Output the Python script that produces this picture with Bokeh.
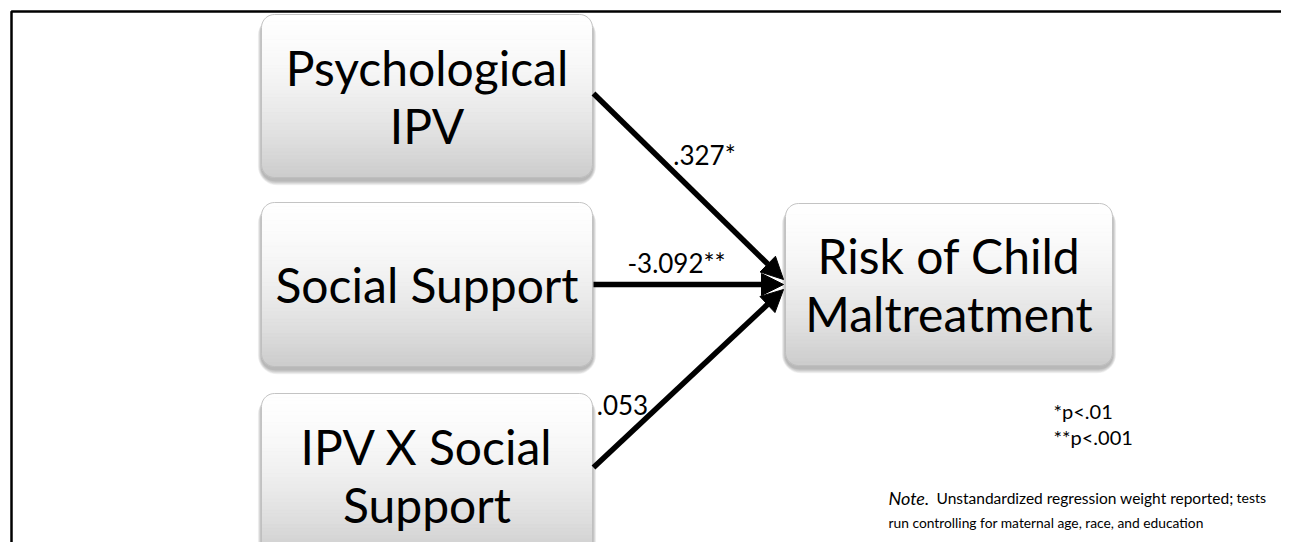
import numpy as np
from bokeh.plotting import figure
from bokeh.models import Range1d, Arrow, NormalHead
from bokeh.core.properties import value
from bokeh.embed import file_html
from bokeh.resources import INLINE

# ---------------- content ----------------
predictor_lines = [["Psychological", "IPV"], ["Social Support"], ["IPV X Social", "Support"]]
outcome_lines = ["Risk of Child", "Maltreatment"]
coefficients = [".327*", "-3.092**", ".053"]
sig_notes = ["*p<.01", "**p<.001"]
note_italic = "Note."
note_line1 = "Unstandardized regression weight reported;"
note_line1_small = "tests"
note_line2 = "run controlling for maternal age, race, and education"

# ---------------- layout (pixel space of the picture) ----------------
PRED_BOX = [(261, 592, 14, 177), (261, 592, 202, 366), (261, 592, 393, 557)]
OUT_BOX = (785, 1112, 203, 365)
RAD = 13
FONT = value("Lato")
BIG = "48px"
LINE_GAP = 58
COEF_POS = [(704, 154), (676, 262), (622, 404)]

p = figure(width=1281, height=542, output_backend="svg", toolbar_location=None,
           x_range=Range1d(0, 1281), y_range=Range1d(542, 0), min_border=0)
p.axis.visible = False
p.grid.visible = False
p.outline_line_color = None
p.background_fill_color = "white"
p.border_fill_color = "white"


def rr_points(l, r, t, b, rad, n=10):
    xs, ys = [], []
    corners = [(r - rad, t + rad, -90, 0), (r - rad, b - rad, 0, 90),
               (l + rad, b - rad, 90, 180), (l + rad, t + rad, 180, 270)]
    for cx, cy, a0, a1 in corners:
        for a in np.linspace(a0, a1, n):
            xs.append(cx + rad * np.cos(np.radians(a)))
            ys.append(cy + rad * np.sin(np.radians(a)))
    return xs, ys


def inset(y, t, b, rad):
    if y < t + rad:
        d = t + rad - y
    elif y > b - rad:
        d = y - (b - rad)
    else:
        return 0.0
    d = min(d, rad)
    return rad - np.sqrt(max(rad * rad - d * d, 0))


def draw_box(l, r, t, b):
    sx, sy = [], []
    for e in range(1, 7):
        xs, ys = rr_points(l - e * 0.6, r + e * 0.6, t + 2, b + 3 + e * 0.8, RAD + e)
        sx.append(xs)
        sy.append(ys)
    p.patches(sx, sy, fill_color="black", fill_alpha=0.05, line_color=None)
    nb = 45
    edges = np.linspace(t, b, nb + 1)
    bx, by, cols = [], [], []
    for k in range(nb):
        y0, y1 = edges[k], edges[k + 1]
        yy = np.linspace(y0, y1, 5)
        left = [l + inset(y, t, b, RAD) for y in yy]
        right = [r - inset(y, t, b, RAD) for y in yy]
        bx.append(left + right[::-1])
        by.append(list(yy) + list(yy[::-1]))
        f = (k + 0.5) / nb
        g = int(round(254 - 50 * f ** 1.7))
        cols.append("#%02x%02x%02x" % (g, g, g))
    p.patches(bx, by, fill_color=cols, line_color=cols, line_width=1)
    xs, ys = rr_points(l, r, t, b, RAD)
    p.patch(xs, ys, fill_color=None, line_color="#bcbcbc", line_width=1, line_alpha=0.9)


for box in PRED_BOX:
    draw_box(*box)
draw_box(*OUT_BOX)

# frame lines of the slide
p.line([11, 11, 1290], [560, 11, 11], line_color="black", line_width=2.5)

# arrows
tip_x = OUT_BOX[0] - 2
tips_y = [279, 284, 289]
starts = [(PRED_BOX[0][1] + 1, 93), (PRED_BOX[1][1] + 1, 284), (PRED_BOX[2][1] + 1, 467)]
for (sx0, sy0), ty in zip(starts, tips_y):
    p.add_layout(Arrow(end=NormalHead(size=22, fill_color="black", line_color="black"),
                       x_start=sx0, y_start=sy0, x_end=tip_x, y_end=ty,
                       line_width=5.5, line_color="black"))

# box texts
tx, ty, tt = [], [], []
for (l, r, t, b), lines in zip(PRED_BOX, predictor_lines):
    cy = (t + b) / 2
    n = len(lines)
    for i, s in enumerate(lines):
        tx.append((l + r) / 2)
        ty.append(cy + (i - (n - 1) / 2) * LINE_GAP)
        tt.append(s)
l, r, t, b = OUT_BOX
for i, s in enumerate(outcome_lines):
    tx.append((l + r) / 2)
    ty.append((t + b) / 2 + (i - 0.5) * LINE_GAP)
    tt.append(s)
p.text(x=tx, y=ty, text=tt, text_font=FONT, text_font_size=BIG, text_align="center",
       text_baseline="middle", text_color="black")

# coefficient labels
p.text(x=[c[0] for c in COEF_POS], y=[c[1] for c in COEF_POS], text=coefficients,
       text_font=FONT, text_font_size="26px", text_align="center", text_baseline="middle",
       text_color="black")

# significance notes
p.text(x=[1053, 1053], y=[410, 436], text=sig_notes, text_font=FONT, text_font_size="20px",
       text_align="left", text_baseline="middle", text_color="black")

# note
p.text(x=[888], y=[497], text=[note_italic], text_font=FONT, text_font_size="18px",
       text_font_style="italic", text_align="left", text_baseline="middle", text_color="black")
p.text(x=[936], y=[497], text=[note_line1], text_font=FONT, text_font_size="15.5px",
       text_align="left", text_baseline="middle", text_color="black")
p.text(x=[1236], y=[497], text=[note_line1_small], text_font=FONT, text_font_size="14px",
       text_align="left", text_baseline="middle", text_color="black")
p.text(x=[888], y=[522], text=[note_line2], text_font=FONT, text_font_size="13.8px",
       text_align="left", text_baseline="middle", text_color="black")

open("out.html", "w").write(file_html(p, INLINE))
